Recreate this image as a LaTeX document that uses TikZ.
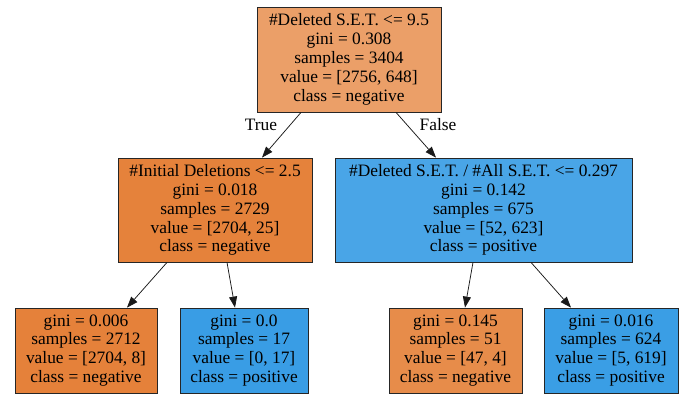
\documentclass[tikz,border=0pt]{standalone}
\usepackage{fontspec}
\setmainfont{Liberation Serif}
\usetikzlibrary{arrows.meta,calc}
\definecolor{c0}{HTML}{EB9F68}
\definecolor{cL}{HTML}{E5823B}
\definecolor{cR}{HTML}{49A5E7}
\definecolor{cLL}{HTML}{E5813A}
\definecolor{cLR}{HTML}{399DE5}
\definecolor{cRL}{HTML}{E78C4A}
\definecolor{cRR}{HTML}{3A9EE5}
\tikzset{
  tnode/.style={draw=black!85, line width=0.8pt, rectangle, align=center, inner sep=0pt,
    font=\fontsize{17.4}{18.9}\selectfont},
  edge/.style={draw=black!90, line width=0.75pt, -{Triangle[length=11pt,width=8pt]}},
  elabel/.style={font=\fontsize{17.4}{19}\selectfont}
}
\begin{document}
\begin{tikzpicture}[x=1pt,y=-1pt]
\useasboundingbox (0,0) rectangle (689,397);
\node[tnode, fill=c0, minimum width=184pt, minimum height=105pt] (root) at (349,59.5)
  {\#Deleted S.E.T. <= 9.5\\gini = 0.308\\samples = 3404\\value = [2756, 648]\\class = negative};
\node[tnode, fill=cL, minimum width=194pt, minimum height=104pt] (L) at (215,210)
  {\#Initial Deletions <= 2.5\\gini = 0.018\\samples = 2729\\value = [2704, 25]\\class = negative};
\node[tnode, fill=cR, minimum width=297pt, minimum height=104pt] (R) at (483.5,210)
  {\#Deleted S.E.T. / \#All S.E.T. <= 0.297\\gini = 0.142\\samples = 675\\value = [52, 623]\\class = positive};
\node[tnode, fill=cLL, minimum width=142pt, minimum height=85pt] (LL) at (86,350.5)
  {gini = 0.006\\samples = 2712\\value = [2704, 8]\\class = negative};
\node[tnode, fill=cLR, minimum width=128pt, minimum height=85pt] (LR) at (244,350.5)
  {gini = 0.0\\samples = 17\\value = [0, 17]\\class = positive};
\node[tnode, fill=cRL, minimum width=133pt, minimum height=85pt] (RL) at (455.5,350.5)
  {gini = 0.145\\samples = 51\\value = [47, 4]\\class = negative};
\node[tnode, fill=cRR, minimum width=134pt, minimum height=85pt] (RR) at (611,350.5)
  {gini = 0.016\\samples = 624\\value = [5, 619]\\class = positive};
\draw[edge] ([xshift=-48pt]root.south) -- ([xshift=47pt]L.north);
\draw[edge] ([xshift=47pt]root.south) -- ([xshift=-47.5pt]R.north);
\draw[edge] ([xshift=-48pt]L.south) -- ([xshift=41pt]LL.north);
\draw[edge] ([xshift=12pt]L.south) -- ([xshift=-9pt]LR.north);
\draw[edge] ([xshift=-10.5pt]R.south) -- ([xshift=9.5pt]RL.north);
\draw[edge] ([xshift=47.5pt]R.south) -- ([xshift=-40pt]RR.north);
\node[elabel] (tl) at (261,125) {True};
\node[elabel] (fl) at (438,125) {False};
\end{tikzpicture}
\end{document}
